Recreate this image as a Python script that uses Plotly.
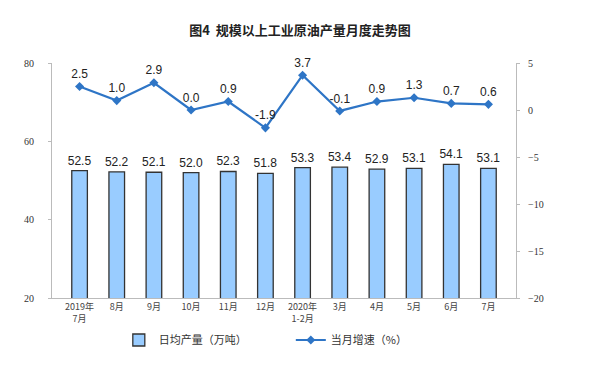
import plotly.graph_objects as go

categories = ["2019年<br>7月", "8月", "9月", "10月", "11月", "12月", "2020年<br>1-2月", "3月", "4月", "5月", "6月", "7月"]
daily_output = [52.5, 52.2, 52.1, 52.0, 52.3, 51.8, 53.3, 53.4, 52.9, 53.1, 54.1, 53.1]
monthly_growth = [2.5, 1.0, 2.9, 0.0, 0.9, -1.9, 3.7, -0.1, 0.9, 1.3, 0.7, 0.6]

fig = go.Figure()
fig.add_trace(go.Bar(
    x=categories, y=daily_output, name="日均产量（万吨）",
    marker=dict(color="#99CCFF", line=dict(color="#333333", width=1.3)),
    text=[f"{v:.1f}" for v in daily_output], textposition="outside",
    constraintext="none",
    textfont=dict(family="Liberation Sans, Arial", size=12, color="#222"),
    cliponaxis=False,
))
fig.add_trace(go.Scatter(
    x=categories, y=monthly_growth, name="当月增速（%）", yaxis="y2",
    mode="lines+markers+text",
    line=dict(color="#2E75C6", width=2.2),
    marker=dict(symbol="diamond", size=7, color="#2E75C6"),
    text=[f"{v:.1f}" for v in monthly_growth], textposition="top center",
    textfont=dict(family="Liberation Sans, Arial", size=12, color="#222"),
    cliponaxis=False,
))

# page body has an 8px margin, so the figure is 8px smaller and margins shifted
fig.update_layout(
    width=592, height=359,
    margin=dict(l=44, r=84, t=55, b=69, autoexpand=False),
    paper_bgcolor="white", plot_bgcolor="white",
    title=dict(text="<b>图4  规模以上工业原油产量月度走势图</b>", x=292 / 592, xanchor="center",
               y=1 - 22 / 359, yanchor="middle", yref="container",
               font=dict(family="Noto Sans CJK SC", size=13, color="#222")),
    bargap=0.58,
    showlegend=True,
    legend=dict(orientation="h", x=0.144, xanchor="left", y=1 - 332 / 359, yanchor="middle", yref="container",
                font=dict(family="Noto Sans CJK SC", size=11, color="#333"),
                entrywidth=127, entrywidthmode="pixels", itemwidth=30, tracegroupgap=0,
                bgcolor="rgba(0,0,0,0)"),
    xaxis=dict(showline=True, linecolor="#BBBBBB", linewidth=1, ticks="", showgrid=False,
               tickfont=dict(family="Noto Sans CJK SC", size=9, color="#444"),
               fixedrange=True),
    yaxis=dict(range=[20, 80], dtick=20, showline=True, linecolor="#BBBBBB", linewidth=1,
               showgrid=False, zeroline=False, ticks="outside", ticklen=3, tickcolor="#BBBBBB",
               tickfont=dict(family="Liberation Serif, Times New Roman", size=10, color="#333"),
               ticklabelstandoff=12),
    yaxis2=dict(range=[-20, 5], dtick=5, overlaying="y", side="right", showline=True,
                linecolor="#BBBBBB", linewidth=1, showgrid=False, zeroline=False,
                ticks="outside", ticklen=3, tickcolor="#BBBBBB",
                tickfont=dict(family="Liberation Serif, Times New Roman", size=10, color="#333"),
                ticklabelstandoff=6),
)

fig.write_html("out.html")
